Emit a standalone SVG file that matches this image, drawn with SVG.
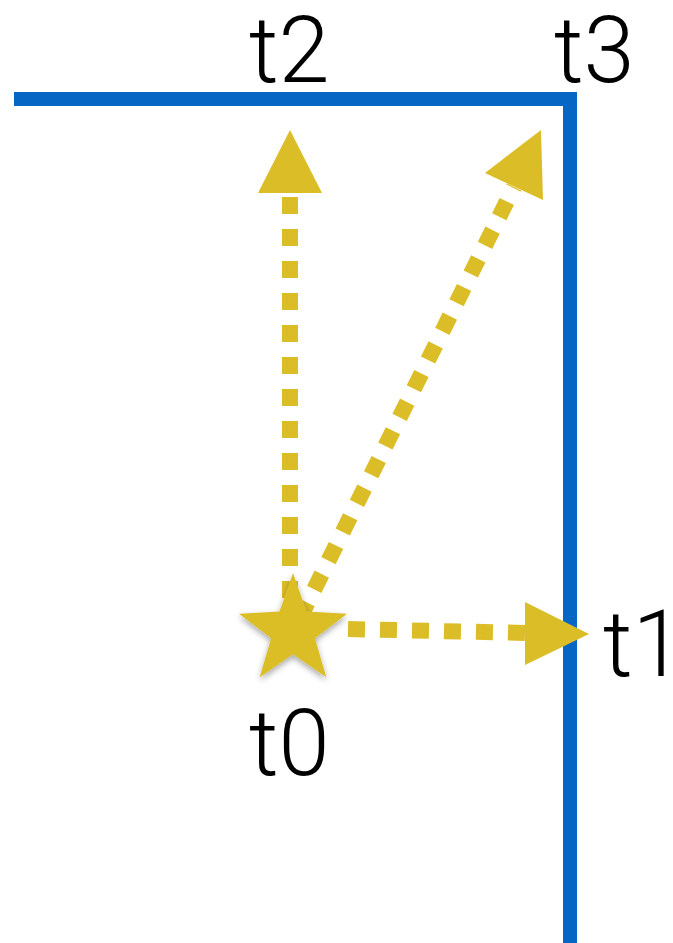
<svg xmlns="http://www.w3.org/2000/svg" width="673" height="943" viewBox="0 0 673 943">
  <style>
    .lbl { font-family: Roboto, "Liberation Sans", sans-serif; font-weight: 300; font-size: 92px; fill: #000; }
    .wall { fill: none; stroke: #0566C4; stroke-width: 14; stroke-linejoin: miter; }
    .shaft { fill: none; stroke: #DBBE27; stroke-width: 16; stroke-dasharray: 17 15; }
    .head { fill: #DBBE27; }
  </style>
  <defs>
    <filter id="shadow" x="-30%" y="-30%" width="160%" height="160%">
      <feDropShadow dx="0" dy="3" stdDeviation="3" flood-color="#000" flood-opacity="0.35"/>
    </filter>
  </defs>
  <g id="wall">
    <polyline class="wall" points="14,99 570,99 570,943"/>
  </g>
  <g id="connectors">
    <g id="to-t2">
      <line class="shaft" x1="290" y1="598" x2="290" y2="195"/>
      <polygon class="head" points="290,130 322,193 258,193"/>
    </g>
    <g id="to-t3">
      <line class="shaft" x1="300" y1="618" x2="514" y2="187"/>
      <polygon class="head" points="541,130 543,200 485,173"/>
    </g>
    <g id="to-t1">
      <line class="shaft" x1="348" y1="629" x2="527" y2="633"/>
      <polygon class="head" points="589,634 525,665 525,602"/>
    </g>
  </g>
  <g id="t0">
    <polygon fill="#DBBE27" filter="url(#shadow)" points="293,573 306.5,611.4 347,613.7 314.9,638.2 326.3,677.3 293,654.2 259.7,677.3 271.1,638.2 239,613.7 279.5,611.4"/>
    <text class="lbl" x="249" y="775">t0</text>
  </g>
  <g id="t1"><text class="lbl" x="603" y="676">t1</text></g>
  <g id="t2"><text class="lbl" x="249" y="82">t2</text></g>
  <g id="t3"><text class="lbl" x="554" y="82">t3</text></g>
</svg>
